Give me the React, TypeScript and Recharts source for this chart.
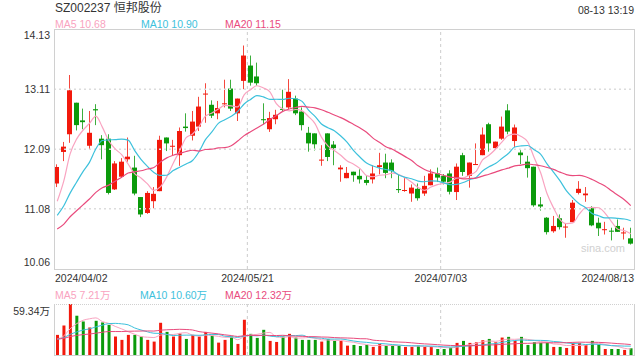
import { ComposedChart, Bar, Line, XAxis, YAxis, ReferenceLine, Cell } from 'recharts';

const dates = [
  '04/02', '04/03', '04/08', '04/09', '04/10', '04/11', '04/12', '04/15', '04/16', '04/17',
  '04/18', '04/19', '04/22', '04/23', '04/24', '04/25', '04/26', '04/29', '04/30',
  '05/06', '05/07', '05/08', '05/09', '05/10', '05/13', '05/14', '05/15', '05/16', '05/17',
  '05/20', '05/21', '05/22', '05/23', '05/24', '05/27', '05/28', '05/29', '05/30', '05/31',
  '06/03', '06/04', '06/05', '06/06', '06/07', '06/11', '06/12', '06/13', '06/14', '06/17',
  '06/18', '06/19', '06/20', '06/21', '06/24', '06/25', '06/26', '06/27', '06/28',
  '07/01', '07/02', '07/03', '07/04', '07/05', '07/08', '07/09', '07/10', '07/11', '07/12',
  '07/15', '07/16', '07/17', '07/18', '07/19', '07/22', '07/23', '07/24', '07/25', '07/26',
  '07/29', '07/30', '07/31',
  '08/01', '08/02', '08/05', '08/06', '08/07', '08/08', '08/09', '08/12', '08/13',
];

const opens = [
  11.51, 12.045, 12.345, 12.88, 12.58, 12.15, 12.77, 12.27, 12.27, 11.41,
  11.625, 11.92, 11.78, 11.28, 11.01, 11.21, 11.38, 12.29, 12.14, 11.99,
  12.475, 12.32, 12.475, 13.025, 12.845, 12.7, 12.855, 13.12, 12.7, 13.25,
  13.51, 13.325, 12.6, 12.43, 12.6, 12.775, 12.8, 12.95, 12.73, 12.37,
  12.36, 11.9, 12.36, 12.17, 11.75, 11.6, 11.71, 11.64, 11.57, 11.58,
  11.79, 11.865, 11.865, 11.415, 11.39, 11.34, 11.42, 11.34, 11.48, 11.68,
  11.64, 11.68, 11.365, 11.99, 11.64, 11.83, 11.99, 12.515, 12.11, 12.27,
  12.75, 12.23, 12.035, 11.88, 11.795, 11.155, 10.93, 10.7, 10.92, 10.77,
  10.855, 11.35, 11.31, 11.09, 10.845, 10.725, 10.71, 10.79, 10.67, 10.58,
];

const closes = [
  11.79, 12.135, 13.09, 12.5, 12.55, 12.37, 12.75, 12.16, 11.35, 11.85,
  11.88, 11.965, 11.34, 10.985, 11.35, 11.335, 12.25, 12.19, 12.15, 12.4,
  12.45, 12.56, 12.815, 13.035, 12.66, 12.79, 12.87, 12.78, 12.95, 13.68,
  13.22, 13.21, 12.59, 12.62, 12.675, 12.765, 13.065, 12.7, 12.5, 12.19,
  12.175, 11.915, 11.96, 12.11, 11.78, 11.69, 11.65, 11.58, 11.52, 11.68,
  11.82, 11.69, 11.72, 11.4, 11.4, 11.44, 11.26, 11.47, 11.68, 11.61,
  11.54, 11.37, 11.795, 11.705, 11.865, 11.84, 12.34, 12.19, 12.22, 12.475,
  12.39, 12.46, 11.99, 11.77, 11.14, 11.12, 10.685, 10.79, 10.77, 10.78,
  11.185, 11.42, 11.34, 10.8, 10.75, 10.735, 10.7, 10.69, 10.68, 10.49,
];

const highs = [
  11.835, 12.215, 13.35, 12.88, 12.78, 12.74, 12.855, 12.33, 12.345, 11.89,
  11.94, 12.29, 11.98, 11.28, 11.38, 11.45, 12.32, 12.29, 12.25, 12.46,
  12.7, 12.74, 12.98, 13.21, 12.92, 12.91, 13.27, 13.27, 12.95, 13.85,
  13.68, 13.56, 12.87, 12.725, 12.76, 13.1, 13.28, 13.0, 12.8, 12.47,
  12.36, 12.16, 12.36, 12.23, 11.82, 11.79, 11.71, 11.75, 11.64, 11.82,
  12.03, 12.015, 11.92, 11.665, 11.6, 11.495, 11.51, 11.64, 11.75, 11.78,
  11.67, 11.735, 11.85, 12.03, 11.865, 12.19, 12.46, 12.54, 12.22, 12.645,
  12.855, 12.51, 12.075, 11.98, 11.795, 11.28, 10.94, 10.96, 10.985, 10.83,
  11.23, 11.55, 11.45, 11.125, 10.93, 10.86, 10.76, 10.9, 10.76, 10.76,
];

const lows = [
  11.45, 11.89, 12.2, 12.41, 12.43, 12.08, 12.5, 11.92, 11.325, 11.4,
  11.61, 11.88, 11.31, 10.94, 10.995, 11.09, 11.38, 12.06, 11.99, 11.81,
  12.39, 12.24, 12.4, 12.54, 12.62, 12.6, 12.8, 12.74, 12.57, 13.11,
  13.17, 13.17, 12.515, 12.385, 12.515, 12.74, 12.77, 12.67, 12.41, 12.05,
  12.07, 11.81, 11.89, 11.82, 11.54, 11.6, 11.54, 11.51, 11.48, 11.51,
  11.665, 11.6, 11.6, 11.35, 11.37, 11.2, 11.22, 11.3, 11.48, 11.535,
  11.495, 11.325, 11.23, 11.64, 11.44, 11.825, 11.99, 12.05, 12.08, 12.25,
  12.345, 12.13, 11.84, 11.61, 11.115, 11.05, 10.645, 10.675, 10.73, 10.59,
  10.855, 11.325, 11.2, 10.785, 10.62, 10.645, 10.545, 10.69, 10.56, 10.475,
];

// volume in 万 shares
const volumes = [
  23.4, 34.4, 59.34, 45.7, 39.0, 32.0, 39.8, 37.9, 35.1, 21.5,
  17.6, 23.4, 23.4, 21.5, 17.6, 15.6, 37.5, 26.9, 21.5, 25.0,
  18.7, 23.4, 21.5, 26.9, 22.6, 14.4, 17.6, 21.5, 12.9, 41.0,
  24.6, 19.9, 29.3, 16.4, 15.2, 21.5, 24.6, 20.3, 17.6, 17.6,
  17.6, 15.6, 18.7, 16.4, 16.4, 10.9, 11.7, 10.5, 11.7, 9.4,
  12.9, 10.9, 10.9, 10.9, 9.4, 9.4, 10.9, 9.4, 9.4, 7.0,
  7.0, 8.6, 14.1, 16.4, 14.1, 14.8, 17.2, 18.7, 14.8, 20.3,
  21.1, 16.4, 21.1, 11.7, 14.8, 14.1, 14.1, 9.4, 9.4, 8.2,
  14.1, 14.1, 11.7, 16.4, 12.1, 7.0, 7.0, 7.0, 5.9, 7.8,
];

// sessions before the visible window, only feeding the moving averages
const priorCloses = [
  10.6, 10.5, 10.45, 10.55, 10.4, 10.5, 10.6, 10.45, 10.5, 10.55,
  10.55, 10.9, 10.65, 10.75, 10.8, 10.45, 10.75, 11.25, 11.8,
];
const priorVolumes = [
  21, 19, 17, 22, 18, 20, 16, 19, 21, 18,
  17, 20, 19, 16, 18, 17, 18, 16, 19,
];

const priceTicks = [10.06, 11.08, 12.09, 13.11, 14.13];
const volumeTicks = [0, 59.34];
const dateTicks = [dates[0], dates[30], dates[60], dates[89]];

const UP = '#f2190c';
const DOWN = '#0b9a0b';
const C_MA5 = '#f9a3c0';
const C_MA10 = '#3dc1dc';
const C_MA20 = '#e94b7d';
const FONT = '"Liberation Sans", Arial, "Noto Sans CJK SC", sans-serif';

function movingAverage(values: number[], prior: number[], n: number) {
  const all = prior.concat(values);
  return values.map((_, i) => {
    const end = prior.length + i + 1;
    const win = all.slice(end - n, end);
    return win.reduce((a, b) => a + b, 0) / win.length;
  });
}

const ma5 = movingAverage(closes, priorCloses, 5);
const ma10 = movingAverage(closes, priorCloses, 10);
const ma20 = movingAverage(closes, priorCloses, 20);
const vma5 = movingAverage(volumes, priorVolumes, 5);
const vma10 = movingAverage(volumes, priorVolumes, 10);
const vma20 = movingAverage(volumes, priorVolumes, 20);

const rows = dates.map((date, i) => ({
  date,
  open: opens[i],
  close: closes[i],
  high: highs[i],
  low: lows[i],
  vol: volumes[i],
  ma5: ma5[i],
  ma10: ma10[i],
  ma20: ma20[i],
  vma5: vma5[i],
  vma10: vma10[i],
  vma20: vma20[i],
}));

const Candle = (props: any) => {
  const { x, y, width, height, payload } = props;
  const { open, close, high, low } = payload;
  const color = close >= open ? UP : DOWN;
  const top0 = Math.min(y, y + height);
  const h = Math.abs(height);
  const k = high > low ? h / (high - low) : 0;
  const cx = Math.round(x + width / 2) - 1;
  const bodyTop = top0 + (high - Math.max(open, close)) * k;
  const bodyBot = top0 + (high - Math.min(open, close)) * k;
  return (
    <g>
      <rect x={cx} y={top0} width={1} height={Math.max(h, 1)} fill={color} opacity={0.8} />
      <rect x={cx - 2} y={bodyTop} width={5} height={Math.max(bodyBot - bodyTop, 1)} fill={color} />
    </g>
  );
};

const PriceTick = (props: any) => {
  const { y, payload } = props;
  let dy = 4;
  if (payload.value === priceTicks[priceTicks.length - 1]) dy = 10;
  if (payload.value === priceTicks[0]) dy = -3;
  return (
    <text x={50} y={y + dy} textAnchor="end" fontSize={10.5} fill="#333" fontFamily={FONT}>
      {payload.value.toFixed(2)}
    </text>
  );
};

const VolumeTick = (props: any) => {
  const { y, payload } = props;
  const isTop = payload.value !== 0;
  return (
    <text x={50} y={y + (isTop ? 11 : -3)} textAnchor="end" fontSize={10.5} fill="#333" fontFamily={FONT}>
      {isTop ? payload.value.toFixed(2) + '万' : '0'}
    </text>
  );
};

const DateTick = (props: any) => {
  const { x, payload, index } = props;
  let anchor: 'start' | 'middle' | 'end' = 'middle';
  let tx = x - 3;
  if (payload.value === dates[0]) {
    anchor = 'start';
    tx = 55;
  } else if (payload.value === dates[dates.length - 1]) {
    anchor = 'end';
    tx = 634;
  }
  return (
    <text key={index} x={tx} y={282} textAnchor={anchor} fontSize={10.5} fill="#333" fontFamily={FONT}>
      {'2024/' + payload.value}
    </text>
  );
};

const label = (left: number, top: number, color: string, text: string, size = 10.5) => (
  <div
    style={{
      position: 'absolute',
      left,
      top,
      color,
      fontSize: size,
      lineHeight: '12px',
      fontFamily: FONT,
      whiteSpace: 'nowrap',
    }}
  >
    {text}
  </div>
);

const App = () => (
  <div style={{ position: 'absolute', left: 0, top: 0, width: 640, height: 360, background: '#fff', overflow: 'hidden' }}>
    <div style={{ position: 'absolute', left: 55, top: 2, fontSize: 12, lineHeight: '13px', color: '#333', fontFamily: FONT }}>
      SZ002237 恒邦股份
    </div>
    <div style={{ position: 'absolute', right: 6, top: 4, fontSize: 10.5, lineHeight: '13px', color: '#333', fontFamily: FONT }}>
      08-13 13:19
    </div>
    {label(55, 18, C_MA5, 'MA5 10.68')}
    {label(141, 18, C_MA10, 'MA10 10.90')}
    {label(225, 18, C_MA20, 'MA20 11.15')}
    {label(55, 289, C_MA5, 'MA5 7.21万')}
    {label(140, 289, C_MA10, 'MA10 10.60万')}
    {label(225, 289, C_MA20, 'MA20 12.32万')}

    <div style={{ position: 'absolute', left: 0, top: 0 }}>
      <ComposedChart width={640} height={290} data={rows} margin={{ top: 29, right: 6, bottom: 0, left: 0 }} barCategoryGap="20%">
        <XAxis
          dataKey="date"
          ticks={dateTicks}
          interval={0}
          height={21}
          axisLine={false}
          tickLine={false}
          tick={<DateTick />}
        />
        <YAxis
          domain={[priceTicks[0], priceTicks[priceTicks.length - 1]]}
          ticks={priceTicks}
          width={54}
          axisLine={false}
          tickLine={false}
          allowDataOverflow
          tick={<PriceTick />}
        />
        {priceTicks.slice(1, -1).map((v) => (
          <ReferenceLine key={v} y={v} stroke="#dcdcdc" strokeDasharray="2 3" strokeWidth={1.5} />
        ))}
        <ReferenceLine x={dates[30]} position="start" stroke="#cccccc" strokeDasharray="3 3" />
        <ReferenceLine x={dates[60]} position="start" stroke="#cccccc" strokeDasharray="3 3" />
        <Bar dataKey={(d: any) => [d.low, d.high]} shape={<Candle />} isAnimationActive={false} />
        <Line type="monotone" dataKey="ma5" stroke={C_MA5} strokeWidth={1.2} dot={false} isAnimationActive={false} />
        <Line type="monotone" dataKey="ma10" stroke={C_MA10} strokeWidth={1.2} dot={false} isAnimationActive={false} />
        <Line type="monotone" dataKey="ma20" stroke={C_MA20} strokeWidth={1.2} dot={false} isAnimationActive={false} />
      </ComposedChart>
    </div>

    <div style={{ position: 'absolute', left: 581, top: 242, fontSize: 11, lineHeight: '13px', color: '#d0d0d0', fontFamily: FONT }}>
      sina.com
    </div>
    <div
      style={{
        position: 'absolute',
        left: 54,
        top: 29,
        width: 579,
        height: 239,
        border: '1px solid #d0d0d0',
        pointerEvents: 'none',
      }}
    />

    <div style={{ position: 'absolute', left: 0, top: 290 }}>
      <ComposedChart width={640} height={66} data={rows} margin={{ top: 14, right: 6, bottom: 1, left: 0 }}>
        <XAxis dataKey="date" hide />
        <YAxis
          domain={[0, volumeTicks[1]]}
          ticks={volumeTicks}
          width={54}
          axisLine={false}
          tickLine={false}
          allowDataOverflow
          tick={<VolumeTick />}
        />
        <ReferenceLine x={dates[30]} position="start" stroke="#cccccc" strokeDasharray="3 3" />
        <ReferenceLine x={dates[60]} position="start" stroke="#cccccc" strokeDasharray="3 3" />
        <Bar dataKey="vol" barSize={3} isAnimationActive={false}>
          {rows.map((r, i) => (
            <Cell key={i} fill={r.close >= r.open ? UP : DOWN} />
          ))}
        </Bar>
        <Line type="monotone" dataKey="vma5" stroke={C_MA5} strokeWidth={1} dot={false} isAnimationActive={false} />
        <Line type="monotone" dataKey="vma10" stroke={C_MA10} strokeWidth={1} dot={false} isAnimationActive={false} />
        <Line type="monotone" dataKey="vma20" stroke={C_MA20} strokeWidth={1} dot={false} isAnimationActive={false} />
      </ComposedChart>
    </div>
    <div
      style={{
        position: 'absolute',
        left: 54,
        top: 304,
        width: 579,
        height: 50,
        borderTop: '1.5px dotted #d0d0d0',
        borderLeft: '1px solid #d0d0d0',
        borderRight: '1px solid #d0d0d0',
        borderBottom: '1px solid #d0d0d0',
        pointerEvents: 'none',
      }}
    />
  </div>
);

export default App;
